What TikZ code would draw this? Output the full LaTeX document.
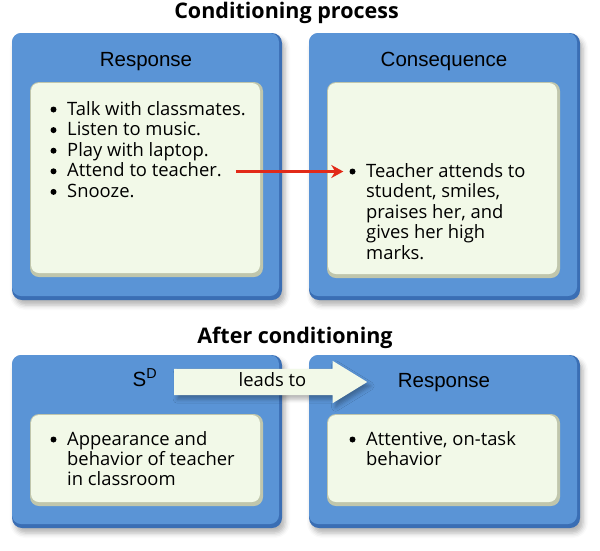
\documentclass[tikz,border=0pt]{standalone}
\usepackage{fontspec}
\setmainfont{Open Sans}
\newfontfamily\headfont{Liberation Sans}
\usetikzlibrary{arrows.meta,shadows.blur,shapes.arrows}

\definecolor{panelblue}{RGB}{90,148,214}
\definecolor{paneldark}{RGB}{58,110,180}
\definecolor{cardfill}{RGB}{242,249,232}
\definecolor{cardedge}{RGB}{192,198,172}
\definecolor{arrowred}{RGB}{226,42,24}

\begin{document}
\begin{tikzpicture}[x=1pt,y=-1pt,
  panel/.style={fill=paneldark, rounded corners=10pt,
    blur shadow={shadow xshift=3pt,shadow yshift=-5pt,shadow opacity=30,shadow blur radius=5pt}},
  card/.style={fill=cardedge, rounded corners=9pt},
  title/.style={font=\fontsize{21.5}{25}\selectfont\bfseries, inner sep=0, anchor=base},
  head/.style={font=\headfont\fontsize{20.5}{24}\selectfont, inner sep=0, anchor=base},
  item/.style={font=\fontsize{18.4}{21}\selectfont, inner sep=0, anchor=base west},
  dot/.style={circle, fill=black, inner sep=0pt, minimum size=6pt},
  redarrow/.style={draw=arrowred, line width=3pt, -{Stealth[length=12pt,width=13pt]}},
  leads/.style={single arrow, fill=cardfill, minimum height=193pt, anchor=tail,
    single arrow head extend=8pt, single arrow tip angle=63,
    text height=12pt, text depth=4pt, inner ysep=5pt, inner xsep=0pt,
    font=\fontsize{18.4}{21}\selectfont,
    blur shadow={shadow xshift=3pt,shadow yshift=-4pt,shadow opacity=30,shadow blur radius=4pt}}]

  \useasboundingbox (0,0) rectangle (600,550);

  % blue panels
  \foreach \xa/\ya/\xb/\yb in {12/33/282/300, 309/33/580/300, 12/355/282/528, 309/355/580/528}
  {
    \fill[panel] (\xa,\ya) rectangle (\xb,\yb);
    \fill[panelblue, rounded corners=9pt] (\xa,\ya) rectangle (\xb-3,\yb-4);
  }

  % cards inside the panels
  \foreach \xa/\ya/\xb/\yb in {30/82/263/277, 327/82/560/278, 30/414/263/506, 327/414/560/506}
  {
    \fill[card] (\xa,\ya) rectangle (\xb,\yb);
    \fill[cardfill, rounded corners=8pt] (\xa+1,\ya+1) rectangle (\xb-3,\yb-4);
  }

  % titles
  \node[title] (t1) at (286.5,18) {Conditioning process};
  \node[title] (t2) at (295,343) {After conditioning};

  % panel heads
  \node[head] (resp) at (146,66) {Response};
  \node[head] (cons) at (444,66) {Consequence};
  \node[head] (sd) at (145,386) {S\textsuperscript{D}};
  \node[head] (resp2) at (444,387) {Response};

  % responses
  \foreach \t [count=\i] in {Talk with classmates., Listen to music., Play with laptop., Attend to teacher., Snooze.}
  {
    \node[item] (act\i) at (67,{94.4+20.6*\i}) {\t};
    \node[dot] (actb\i) at ([shift={(-13.5,-5.5)}]act\i.base west) {};
  }

  % consequence
  \node[item] (rein1) at (366,177) {Teacher attends to};
  \node[dot] (reinb) at ([shift={(-13.5,-5.5)}]rein1.base west) {};
  \foreach \t [count=\i from 2] in {{student, smiles,}, {praises her, and}, gives her high, marks.}
    \node[item] (rein\i) at (366,{156.4+20.6*\i}) {\t};

  \draw[redarrow, shorten <=14pt, shorten >=6pt] (act4.east |- reinb.west) -- (reinb.west);

  % after conditioning
  \node[item] (cue1) at (67,445) {Appearance and};
  \node[dot] (cueb) at ([shift={(-13.5,-5.5)}]cue1.base west) {};
  \foreach \t [count=\i from 2] in {behavior of teacher, in classroom}
    \node[item] (cue\i) at (67,{424+20.6*\i}) {\t};

  \node[item] (beh1) at (366,445) {Attentive, on-task};
  \node[dot] (behb) at ([shift={(-13.5,-5.5)}]beh1.base west) {};
  \node[item] (beh2) at (366,465) {behavior};

  \node[leads] (lead) at (174,382) {\hspace*{25pt}leads to};
\end{tikzpicture}
\end{document}
